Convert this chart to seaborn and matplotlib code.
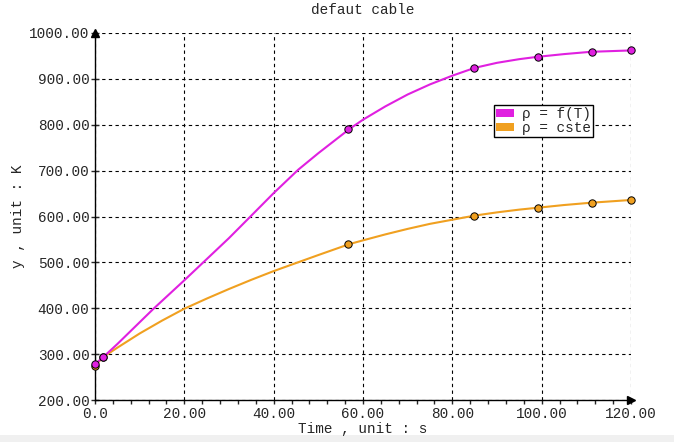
import pandas as pd
import matplotlib
matplotlib.use("Agg")
import matplotlib.pyplot as plt
from matplotlib.patches import Patch, Rectangle
from matplotlib.ticker import MultipleLocator, FormatStrFormatter
import seaborn as sns

# valeurs
t_f_curve = [0.0, 1.9, 5, 13, 20, 25, 30, 34.5, 40, 45.5, 50, 57, 60, 65, 70, 75, 80, 85, 90, 95, 99, 105, 111, 120]
rho_f_curve = [278, 294, 322, 398, 461, 507, 553, 597, 651, 702, 738, 791, 811, 840, 866, 888, 907, 924, 935, 943, 948, 954, 959, 962]
t_c_curve = [0.0, 1.9, 5, 10, 15, 20, 25, 30, 35, 40, 46, 50, 57, 60, 65, 70, 75, 80, 85, 90, 95, 99, 105, 111, 120]
rho_c_curve = [275, 294, 314, 345, 373, 399, 421, 442, 462, 481, 502, 516, 540, 548, 561, 573, 584, 593, 602, 609, 615, 619, 625, 630, 636]

# points marques
t_pts = [0.0, 1.9, 56.7, 84.9, 99.2, 111.3, 119.9]
rho_f_pts = [278, 294, 791, 924, 948, 959, 962]
rho_c_pts = [275, 294, 540, 602, 619, 630, 636]

x_ticks = [0, 20, 40, 60, 80, 100, 120]
x_ticklabels = ["0.0", "20.00", "40.00", "60.00", "80.00", "100.00", "120.00"]

labels = ["ρ = f(T)", "ρ = cste"]
colors = ["#e020e0", "#f0a020"]

sns.set_style("white")
plt.rcParams['font.family'] = ['Liberation Mono', 'DejaVu Sans Mono']

curves = pd.DataFrame({
    "t": t_f_curve + t_c_curve,
    "y": rho_f_curve + rho_c_curve,
    "serie": [labels[0]] * len(t_f_curve) + [labels[1]] * len(t_c_curve),
})

fig = plt.figure(figsize=(6.74, 4.42), dpi=100)
fig.patches.append(Rectangle((0, 0), 1, 7 / 442, transform=fig.transFigure,
                             facecolor="#f0f0f0", edgecolor="none", zorder=-1))
ax = fig.add_axes([95 / 674, 1 - 400 / 442, 536 / 674, 367 / 442])

sns.lineplot(data=curves, x="t", y="y", hue="serie", hue_order=labels[::-1],
             palette={labels[0]: colors[0], labels[1]: colors[1]},
             linewidth=1.5, ax=ax, legend=False, zorder=3, sort=False)
ax.scatter(t_pts, rho_c_pts, s=28, c=colors[1], edgecolors="black", linewidths=0.7, zorder=4, clip_on=False)
ax.scatter(t_pts, rho_f_pts, s=28, c=colors[0], edgecolors="black", linewidths=0.7, zorder=5, clip_on=False)

ax.set_xlim(0, 120)
ax.set_ylim(200, 1000)
ax.set_xticks(x_ticks)
ax.set_xticklabels(x_ticklabels)
ax.xaxis.set_minor_locator(MultipleLocator(4))
ax.yaxis.set_major_locator(MultipleLocator(100))
ax.yaxis.set_major_formatter(FormatStrFormatter("%.2f"))

ax.tick_params(axis="x", which="both", direction="out", length=3, width=1, pad=2, labelsize=10.4, bottom=True)
ax.tick_params(axis="y", which="major", direction="inout", length=6, width=1, pad=1, labelsize=10.4, left=True)

ax.grid(True, which="major", color="black", linestyle=(0, (3, 3)), linewidth=0.8)
for s in ["top", "right"]:
    ax.spines[s].set_visible(False)
for s in ["left", "bottom"]:
    ax.spines[s].set_color("black")
    ax.spines[s].set_linewidth(1)

ax.plot(1, 0, ">k", transform=ax.transAxes, clip_on=False, markersize=6, zorder=6)
ax.plot(0, 1, "^k", transform=ax.transAxes, clip_on=False, markersize=6, zorder=6)

ax.set_title("defaut cable", fontsize=10.4, pad=14)
ax.set_xlabel("Time , unit : s", fontsize=10.4, labelpad=1)
ax.set_ylabel("y , unit : K", fontsize=10.4, labelpad=3)

handles = [Patch(facecolor=colors[0], edgecolor="none"), Patch(facecolor=colors[1], edgecolor="none")]
leg = ax.legend(handles, labels, loc="upper left", bbox_to_anchor=((494 - 95) / 536, (400 - 105) / 367),
                borderaxespad=0, fontsize=10.4, fancybox=False, framealpha=1, edgecolor="black",
                labelspacing=0.0, handlelength=1.2, handleheight=0.5, handletextpad=0.6,
                borderpad=0.15)
leg.get_frame().set_linewidth(1)
leg.set_zorder(7)

fig.savefig("out.png", dpi=100)
